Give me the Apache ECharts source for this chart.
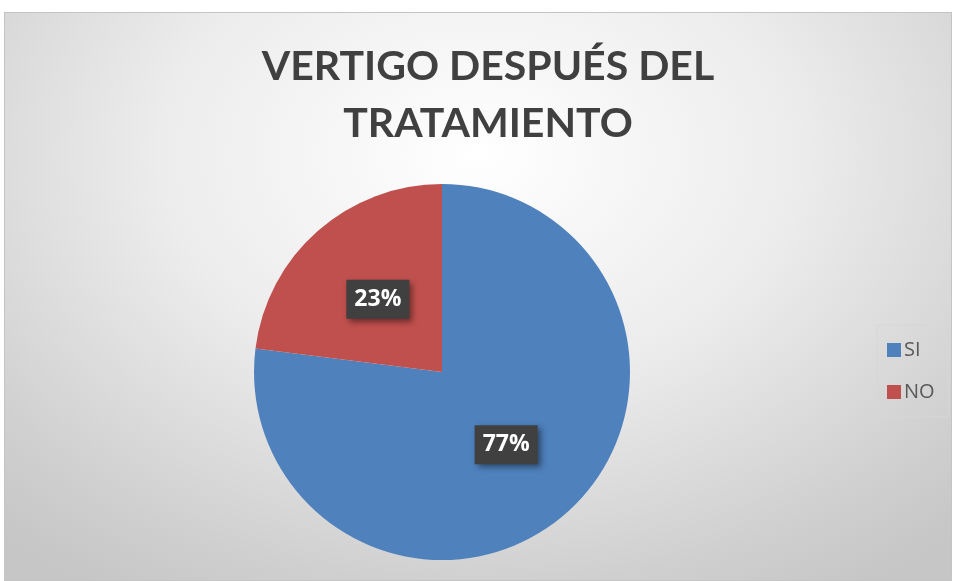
<!DOCTYPE html>
<html>
<head>
<meta charset="utf-8">
<script src="https://cdn.jsdelivr.net/npm/echarts@6/dist/echarts.min.js"></script>
<style>
  html, body { margin: 0; padding: 0; background: #fff; }
  #chart {
    position: absolute; left: 4px; top: 12px; width: 946px; height: 567px;
    border: 1px solid #c4c4c4;
    background: radial-gradient(ellipse 75% 90% at 50% 25%, #ffffff 0%, #ececec 45%, #cfcfcf 85%, #c6c6c6 100%);
  }
</style>
</head>
<body>
<div id="chart"></div>
<script>
var categories = ["SI", "NO"];
var values = [77, 23];
var colors = ["#4F81BD", "#C0504D"];

var myChart = echarts.init(document.getElementById("chart"));
var option = {
    backgroundColor: "transparent",
    title: {
        text: "VERTIGO DESPUÉS DEL\nTRATAMIENTO",
        left: 478, top: 20, textAlign: "center",
        textStyle: { fontFamily: "Lato", fontWeight: "bold", fontSize: 41, color: "#404040", lineHeight: 57 }
    },
    legend: {
        orient: "vertical",
        left: 872, top: 312,
        padding: [15, 14, 15, 10],
        itemGap: 22,
        itemWidth: 14, itemHeight: 14,
        borderColor: "#d6d6d6", borderWidth: 1,
        icon: "rect",
        data: categories,
        textStyle: { fontFamily: "Open Sans", fontSize: 20, color: "#595959", padding: [0, 0, 0, -2] }
    },
    series: [{
        type: "pie",
        center: [437, 359],
        radius: 188,
        startAngle: 90,
        clockwise: true,
        data: categories.map(function (c, i) {
            return { name: c, value: values[i], itemStyle: { color: colors[i] } };
        }),
        label: {
            position: "inside",
            formatter: "{d}%",
            fontFamily: "Open Sans", fontWeight: "bold", fontSize: 23, color: "#fff",
            backgroundColor: "#404040",
            padding: [9, 8, 7, 8],
            shadowColor: "rgba(0,0,0,0.45)", shadowBlur: 6, shadowOffsetX: 3, shadowOffsetY: 3
        },
        labelLine: { show: false },
        emphasis: { disabled: true }
    }]
};
myChart.setOption(option);
window.addEventListener("resize", myChart.resize);
</script>
</body>
</html>
